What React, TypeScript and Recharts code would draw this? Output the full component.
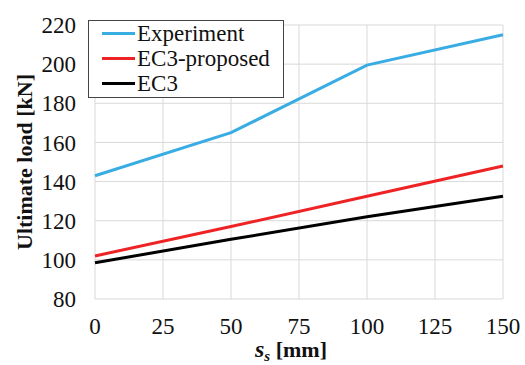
import { CartesianGrid, Label, Legend, Line, LineChart, XAxis, YAxis } from 'recharts'

const spacing = [0, 50, 100, 150]
const experiment = [143, 165, 199.5, 215]
const ec3Proposed = [102, 117, 132.5, 148]
const ec3 = [98.5, 110.5, 122, 132.5]

const xTicks = [0, 25, 50, 75, 100, 125, 150]
const yTicks = [80, 100, 120, 140, 160, 180, 200, 220]

const SERIF = '"Liberation Serif", "Times New Roman", serif'

const series = [
  { key: 'experiment', name: 'Experiment', color: '#39ADE3' },
  { key: 'ec3Proposed', name: 'EC3-proposed', color: '#EE2326' },
  { key: 'ec3', name: 'EC3', color: '#000000' },
]

const data = spacing.map((s, i) => ({
  s,
  experiment: experiment[i],
  ec3Proposed: ec3Proposed[i],
  ec3: ec3[i],
}))

function LegendBox() {
  return (
    <div
      style={{
        boxSizing: 'border-box',
        width: 196,
        border: '1px solid #444',
        background: '#fff',
        padding: '0 0 1px 13px',
        fontFamily: SERIF,
        fontSize: 23,
        lineHeight: '25px',
        color: '#111',
      }}
    >
      {series.map((s) => (
        <div key={s.key} style={{ display: 'flex', alignItems: 'center', height: 25 }}>
          <span style={{ display: 'inline-block', width: 33, height: 3, background: s.color, marginRight: 2 }} />
          <span>{s.name}</span>
        </div>
      ))}
    </div>
  )
}

// Serif tick labels; the axis passes x, y, textAnchor and the tick payload
const XTick = ({ x, y, payload }: any) => (
  <text x={x} y={y} dy="0.71em" textAnchor="middle" fontFamily={SERIF} fontSize={23} fill="#111">
    {payload.value}
  </text>
)

const YTick = ({ x, y, payload }: any) => (
  <text x={x} y={y} dy="0.355em" textAnchor="end" fontFamily={SERIF} fontSize={23} fill="#111">
    {payload.value}
  </text>
)

export default function App() {
  return (
    <div style={{ position: 'absolute', left: 0, top: 0 }}>
      <LineChart width={525} height={365} data={data} margin={{ top: 25, right: 22, left: 0, bottom: 0 }}>
        <CartesianGrid stroke="#d9d9d9" strokeWidth={1} />
        <XAxis
          type="number"
          dataKey="s"
          domain={[0, 150]}
          ticks={xTicks}
          axisLine={false}
          tickLine={false}
          tick={<XTick />}
          tickMargin={13}
          height={66}
          interval={0}
        >
          <Label
            content={({ viewBox }: any) => (
              <text
                x={291}
                y={viewBox.y + 58}
                textAnchor="middle"
                fontFamily={SERIF}
                fontSize={22}
                fontWeight="bold"
                fill="#111"
              >
                <tspan fontStyle="italic" fontSize={24}>s</tspan>
                <tspan fontStyle="italic" fontSize={15} dy={4}>s</tspan>
                <tspan dy={-4}> [mm]</tspan>
              </text>
            )}
          />
        </XAxis>
        <YAxis
          type="number"
          domain={[80, 220]}
          ticks={yTicks}
          axisLine={false}
          tickLine={false}
          tick={<YTick />}
          tickMargin={13}
          width={95}
          interval={0}
        >
          <Label
            content={({ viewBox }: any) => {
              const cy = viewBox.y + viewBox.height / 2
              return (
                <text
                  x={32}
                  y={cy}
                  transform={`rotate(-90, 32, ${cy})`}
                  textAnchor="middle"
                  fontFamily={SERIF}
                  fontSize={22}
                  fontWeight="bold"
                  fill="#111"
                >
                  Ultimate load [kN]
                </text>
              )
            }}
          />
        </YAxis>
        <Legend
          layout="vertical"
          align="center"
          verticalAlign="middle"
          content={() => <LegendBox />}
          wrapperStyle={{ left: 88, top: 20, width: 'auto', height: 'auto' }}
        />
        {series.map((s) => (
          <Line
            key={s.key}
            type="linear"
            dataKey={s.key}
            name={s.name}
            stroke={s.color}
            strokeWidth={3}
            dot={false}
            activeDot={false}
            isAnimationActive={false}
          />
        ))}
      </LineChart>
    </div>
  )
}
